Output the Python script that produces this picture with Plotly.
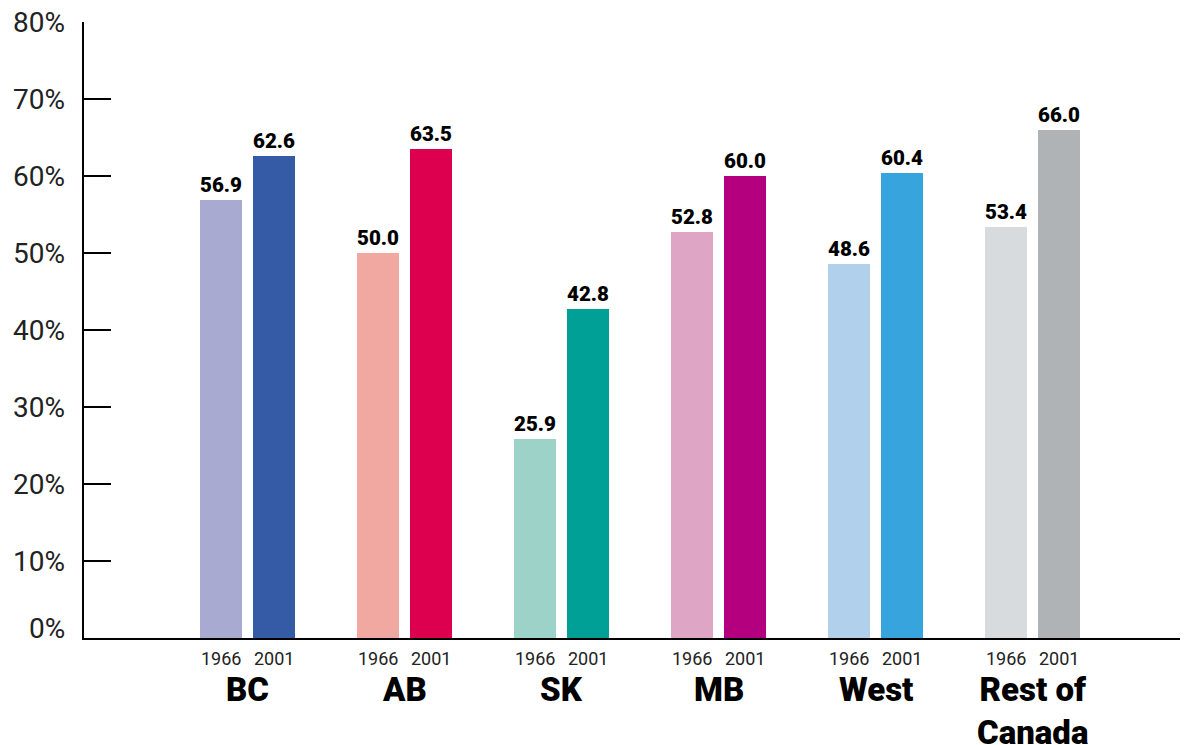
import plotly.graph_objects as go

regions = ["BC", "AB", "SK", "MB", "West", "Rest of<br>Canada"]
years = ["1966", "2001"]
share_1966 = [56.9, 50.0, 25.9, 52.8, 48.6, 53.4]
share_2001 = [62.6, 63.5, 42.8, 60.0, 60.4, 66.0]
colors_1966 = ["#A8AAD2", "#F0A8A0", "#9DD2C8", "#DEA5C4", "#B0D0EC", "#D7DBDE"]
colors_2001 = ["#355BA6", "#DC004E", "#00A096", "#B4007E", "#38A4DE", "#AFB3B6"]
yticks = [0, 10, 20, 30, 40, 50, 60, 70, 80]

off = 0.1688
bw = 0.2675
idx = list(range(len(regions)))

fig = go.Figure()
for vals, cols, sign in [(share_1966, colors_1966, -1), (share_2001, colors_2001, 1)]:
    fig.add_trace(go.Bar(
        x=[i + sign * off for i in idx], y=vals, width=bw,
        marker=dict(color=cols, line=dict(width=0)),
        text=[f"{v:.1f}" for v in vals], textposition="outside",
        textfont=dict(family="Roboto", size=23, color="black", weight=900),
        cliponaxis=False, showlegend=False,
    ))

ann = []
for i in idx:
    for sign, yr in zip([-1, 1], years):
        ann.append(dict(x=i + sign * off, y=0, xref="x", yref="y", text=yr,
                        showarrow=False, yanchor="top", yshift=-8,
                        font=dict(family="Roboto", size=18, color="#222")))
    ann.append(dict(x=i, y=0, xref="x", yref="y", text=regions[i],
                    showarrow=False, yanchor="top", yshift=-30,
                    font=dict(family="Roboto", size=33, color="black", weight=900)))

# y tick labels as annotations (the 0% label sits a little above its tick)
for t in yticks:
    ann.append(dict(x=0, y=t, xref="paper", yref="y", text=f"{t}%",
                    showarrow=False, xanchor="right", yanchor="middle",
                    xshift=-17, yshift=10 if t == 0 else 0,
                    font=dict(family="Roboto", size=28, color="#222")))

# page body has an 8px margin, so the figure is shifted by 8px
fig.update_layout(
    width=1180, height=737,
    margin=dict(l=76, r=0, t=14, b=107),
    plot_bgcolor="white", paper_bgcolor="white",
    bargap=0,
    annotations=ann,
    xaxis=dict(range=[-1.041, 5.99], showline=True, linewidth=2, linecolor="black",
               showticklabels=False, ticks="", showgrid=False, zeroline=False,
               automargin=False),
    yaxis=dict(range=[0, 80.02], tickvals=yticks, showticklabels=False,
               showline=True, linewidth=2, linecolor="black",
               ticks="inside", ticklen=27, tickwidth=2, tickcolor="black",
               automargin=False, showgrid=False, zeroline=False),
)

fig.write_html("out.html")
